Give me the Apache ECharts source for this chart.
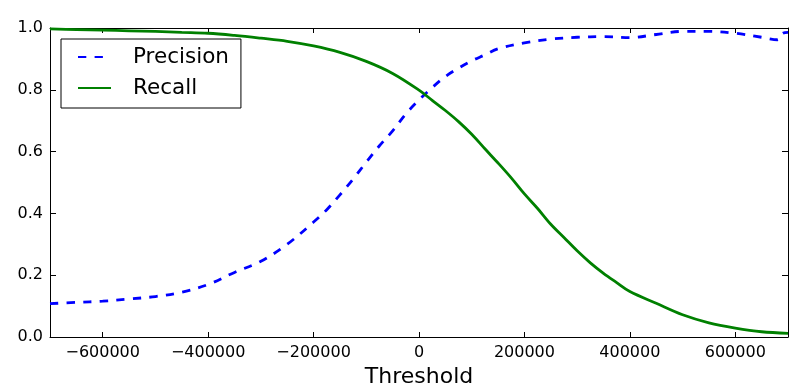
<!DOCTYPE html>
<html>
<head>
<meta charset="utf-8">
<script src="https://cdn.jsdelivr.net/npm/echarts@6/dist/echarts.min.js"></script>
<style>
html,body{margin:0;padding:0;background:#fff;}
#chart{width:808px;height:388px;}
</style>
</head>
<body>
<div id="chart"></div>
<script>
// Thresholds and values
var precisionX = [-700000,-650000,-600000,-550000,-500000,-450000,-400000,-350000,-300000,-250000,-200000,-175000,-150000,-125000,-100000,-75000,-50000,-25000,0,25000,50000,75000,100000,125000,150000,200000,250000,300000,350000,400000,450000,500000,550000,600000,650000,680000,690000,700000];
var precisionY = [0.108,0.112,0.116,0.123,0.131,0.145,0.170,0.209,0.245,0.300,0.372,0.412,0.460,0.511,0.566,0.619,0.667,0.722,0.767,0.807,0.843,0.870,0.894,0.913,0.933,0.952,0.964,0.970,0.972,0.969,0.979,0.989,0.989,0.983,0.970,0.962,0.983,0.986];
var recallX = [-700000,-650000,-600000,-550000,-500000,-450000,-400000,-350000,-300000,-250000,-200000,-150000,-100000,-50000,0,25000,50000,75000,100000,125000,150000,175000,200000,225000,250000,275000,300000,325000,350000,375000,400000,450000,500000,550000,600000,650000,700000];
var recallY = [0.997,0.995,0.993,0.991,0.989,0.986,0.983,0.976,0.967,0.957,0.942,0.921,0.892,0.853,0.799,0.766,0.733,0.697,0.656,0.609,0.563,0.515,0.463,0.416,0.365,0.322,0.279,0.240,0.206,0.176,0.147,0.109,0.072,0.046,0.029,0.017,0.012];
var xTicks = [-600000,-400000,-200000,0,200000,400000,600000];
var seriesNames = ['Precision','Recall'];
var xAxisTitle = 'Threshold';

function pairs(xs, ys){ return xs.map(function(x,i){ return [x, ys[i]]; }); }
var FONT = 'DejaVu Sans';

var chart = echarts.init(document.getElementById('chart'), null, {renderer:'canvas'});
chart.setOption({
  animation:false,
  backgroundColor:'#ffffff',
  grid:{left:50,right:20,top:28,bottom:51,containLabel:false,outerBoundsMode:'none'},
  legend:{
    orient:'vertical', left:61, top:39,
    padding:[7,12,9,16],
    itemWidth:33, itemHeight:14, itemGap:9,
    borderColor:'#000', borderWidth:1, borderRadius:0,
    backgroundColor:'#ffffff',
    itemStyle:{color:'rgba(0,0,0,0)',borderColor:'rgba(0,0,0,0)',borderWidth:0,opacity:0},
    data:seriesNames,
    textStyle:{fontFamily:FONT,fontSize:21.5,color:'#000',lineHeight:22,padding:[0,0,0,17]}
  },
  xAxis:[{
    type:'value', min:-700000, max:700000, position:'bottom',
    name:xAxisTitle, nameLocation:'middle', nameGap:28,
    nameTextStyle:{fontFamily:FONT,fontSize:22,color:'#000'},
    axisLine:{show:true,onZero:false,lineStyle:{color:'#000',width:1}},
    axisTick:{show:true,inside:true,length:5,customValues:xTicks,lineStyle:{color:'#000'}},
    axisLabel:{show:true,margin:8,fontFamily:FONT,fontSize:16,color:'#000',customValues:xTicks,
      formatter:function(v){ return v<0 ? '\u2212'+Math.abs(v) : String(v); }},
    splitLine:{show:false}
  },{
    type:'value', min:-700000, max:700000, position:'top',
    axisLine:{show:true,onZero:false,lineStyle:{color:'#000',width:1}},
    axisTick:{show:true,inside:true,length:5,customValues:xTicks,lineStyle:{color:'#000'}},
    axisLabel:{show:false},
    splitLine:{show:false}
  }],
  yAxis:[{
    type:'value', min:0, max:1, interval:0.2, position:'left',
    axisLine:{show:true,onZero:false,lineStyle:{color:'#000',width:1}},
    axisTick:{show:true,inside:true,length:6,lineStyle:{color:'#000'}},
    axisLabel:{show:true,margin:7,fontFamily:FONT,fontSize:16,color:'#000',
      formatter:function(v){ return v.toFixed(1); }},
    splitLine:{show:false}
  },{
    type:'value', min:0, max:1, interval:0.2, position:'right',
    axisLine:{show:true,onZero:false,lineStyle:{color:'#000',width:1}},
    axisTick:{show:true,inside:true,length:6,lineStyle:{color:'#000'}},
    axisLabel:{show:false},
    splitLine:{show:false}
  }],
  series:[{
    name:seriesNames[0], type:'line', xAxisIndex:0, yAxisIndex:0,
    data:pairs(precisionX, precisionY),
    symbol:'none', showSymbol:false, smooth:0.35,
    color:'#0000ff',
    lineStyle:{color:'#0000ff',width:2.8,type:[8.3,8.3],cap:'butt'}
  },{
    name:seriesNames[1], type:'line', xAxisIndex:0, yAxisIndex:0,
    data:pairs(recallX, recallY),
    symbol:'none', showSymbol:false, smooth:0.35,
    color:'#008000',
    lineStyle:{color:'#008000',width:2.8,type:'solid'}
  }]
});
</script>
</body>
</html>
